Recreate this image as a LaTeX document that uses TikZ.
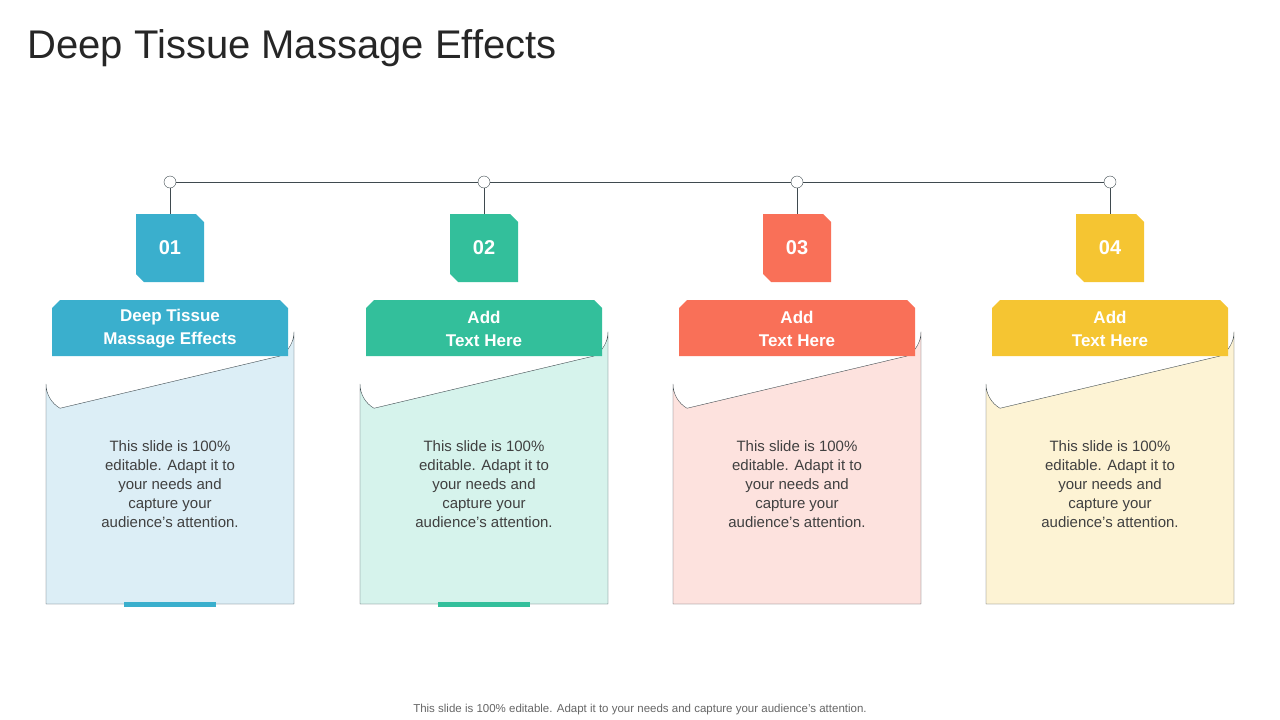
\documentclass[tikz,border=0pt]{standalone}
\usepackage{fontspec}
\setmainfont{Liberation Sans}
\definecolor{cblue}{HTML}{3AAFCD}
\definecolor{cgreen}{HTML}{33BF9B}
\definecolor{cred}{HTML}{F97058}
\definecolor{cyellow}{HTML}{F5C532}
\definecolor{lblue}{HTML}{DCEEF6}
\definecolor{lgreen}{HTML}{D6F3EC}
\definecolor{lred}{HTML}{FDE2DE}
\definecolor{lyellow}{HTML}{FDF3D4}
\definecolor{edgegray}{HTML}{3F4A4F}
\tikzset{
  dot/.style={circle, draw=edgegray, fill=white, inner sep=0pt, minimum size=12pt},
  numtext/.style={text=white, font=\fontsize{20}{24}\selectfont\bfseries},
  headtext/.style={text=white, align=center, font=\fontsize{17}{23}\selectfont\bfseries},
  bodytext/.style={text=black!75, align=center, font=\fontsize{15}{19}\selectfont}
}
\begin{document}
\begin{tikzpicture}[x=1pt,y=-1pt]
	\useasboundingbox (0,0) rectangle (1280,720);
	\node[anchor=west, font=\fontsize{40}{48}\selectfont, text=black!85] (title) at (24,48) {Deep Tissue Massage Effects};
	\node[font=\fontsize{11.5}{14}\selectfont, text=black!60] (foot) at (640,710) {This slide is 100\% editable. Adapt it to your needs and capture your audience's attention.};

	\draw[edgegray] (170,182) -- (1110,182);
	\foreach \cx/\c/\l/\n/\head/\bar in {170/cblue/lblue/01/{Deep Tissue\\Massage Effects}/1,
		484/cgreen/lgreen/02/{Add\\Text Here}/1,
		797/cred/lred/03/{Add\\Text Here}/0,
		1110/cyellow/lyellow/04/{Add\\Text Here}/0} {
		% body with rounded top corners
		\draw[edgegray, fill=\l] (\cx-124,604) -- (\cx-124,384) arc[start angle=180, end angle=120, radius=28]
			-- (\cx+110,356) arc[start angle=60, end angle=0, radius=28] -- (\cx+124,604) -- cycle;
		% header
		\fill[\c] (\cx-118,356) -- (\cx-118,308) -- (\cx-110,300) -- (\cx+110,300) -- (\cx+118,308) -- (\cx+118,356) -- cycle;
		\node[headtext] (head\n) at (\cx,329) {\head};
		% number tab
		\fill[\c] (\cx-34,214) -- (\cx+26,214) -- (\cx+34,222) -- (\cx+34,282) -- (\cx-26,282) -- (\cx-34,274) -- cycle;
		\node[numtext] (num\n) at (\cx,248) {\n};
		\coordinate (tab\n) at (\cx,214);
		\node[dot] (dot\n) at (\cx,182) {};
		\draw[edgegray] (dot\n) -- (tab\n);
		\node[bodytext] (body\n) at (\cx,484) {This slide is 100\%\\editable. Adapt it to\\your needs and\\capture your\\audience's attention.};
		\ifnum\bar=1 \fill[\c] (\cx-46,602) rectangle (\cx+46,607); \fi
	}
\end{tikzpicture}
\end{document}
